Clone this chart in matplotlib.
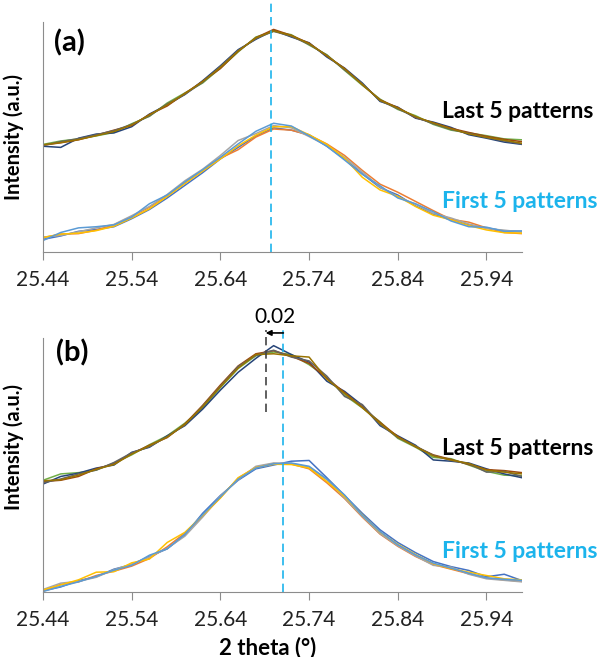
import matplotlib
matplotlib.use("Agg")
from matplotlib import pyplot as plt

plt.rcParams['font.family'] = ['Lato', 'DejaVu Sans']

# 2 theta grid shared by all patterns
two_theta = [25.44, 25.46, 25.48, 25.50, 25.52, 25.54, 25.56, 25.58, 25.60, 25.62,
             25.64, 25.66, 25.68, 25.70, 25.72, 25.74, 25.76, 25.78, 25.80, 25.82,
             25.84, 25.86, 25.88, 25.90, 25.92, 25.94, 25.96, 25.98]

# (a) last 5 patterns
a_last = [
    [46.8, 48.3, 49.2, 50.5, 52.0, 55.8, 59.0, 64.8, 69.2, 73.5, 80.0, 87.0, 93.5, 96.0, 94.5, 90.0, 85.8, 79.0, 72.5, 66.5, 62.0, 59.3, 55.5, 53.0, 51.8, 50.6, 49.2, 48.8],
    [46.0, 45.5, 49.5, 51.3, 51.8, 54.5, 60.0, 64.0, 68.5, 74.5, 81.0, 88.0, 92.5, 96.5, 93.5, 91.0, 84.8, 80.0, 73.5, 65.5, 63.0, 58.2, 56.5, 54.2, 51.0, 49.5, 47.8, 46.8],
    [46.5, 47.5, 48.8, 50.8, 53.0, 55.0, 59.8, 63.5, 69.0, 74.2, 79.8, 87.3, 93.2, 96.8, 94.2, 90.8, 85.3, 79.8, 72.8, 66.2, 62.8, 58.5, 56.2, 53.8, 52.0, 50.3, 49.0, 48.0],
    [46.3, 48.0, 49.3, 51.0, 52.8, 55.5, 59.2, 64.4, 68.6, 73.8, 80.7, 87.6, 92.8, 96.0, 93.8, 90.3, 85.6, 79.2, 73.2, 65.8, 62.3, 58.6, 55.8, 53.3, 51.6, 49.8, 48.3, 47.0],
    [46.6, 47.6, 48.9, 50.6, 52.4, 55.3, 59.6, 64.0, 68.9, 74.1, 80.3, 87.4, 93.1, 96.2, 94.1, 90.6, 85.4, 79.6, 72.9, 66.0, 62.6, 58.9, 56.1, 53.6, 51.4, 49.9, 48.6, 47.3],
]
# (a) first 5 patterns
a_first = [
    [5.5, 7.0, 9.0, 9.8, 11.0, 14.5, 18.5, 23.5, 29.0, 34.5, 40.5, 45.5, 50.5, 54.0, 53.0, 51.0, 46.0, 40.5, 34.0, 28.0, 24.8, 20.0, 16.5, 14.0, 11.8, 10.5, 9.2, 8.9],
    [6.2, 7.8, 8.0, 9.5, 11.8, 15.5, 19.5, 24.5, 30.0, 35.5, 40.8, 44.5, 50.0, 53.5, 53.0, 50.8, 47.0, 42.0, 35.5, 29.5, 26.0, 22.0, 18.0, 14.2, 13.0, 10.5, 8.5, 8.0],
    [6.5, 7.2, 8.8, 10.5, 12.0, 15.8, 19.8, 25.0, 31.0, 36.0, 42.0, 48.5, 51.5, 55.0, 54.0, 50.2, 46.3, 41.2, 34.8, 28.2, 24.0, 20.8, 16.8, 14.8, 12.2, 10.2, 9.5, 8.7],
    [6.3, 7.8, 8.2, 9.3, 11.2, 14.8, 18.8, 24.2, 29.8, 35.2, 40.5, 46.2, 50.8, 54.5, 54.5, 51.0, 46.8, 40.8, 32.5, 27.0, 24.2, 19.8, 16.0, 14.0, 11.5, 9.6, 8.4, 8.2],
    [5.0, 8.5, 10.5, 11.0, 11.8, 15.2, 21.0, 24.8, 30.5, 35.8, 41.2, 47.0, 52.5, 56.0, 54.8, 50.5, 46.0, 40.0, 33.8, 28.8, 23.5, 21.0, 17.5, 13.5, 11.0, 10.8, 9.0, 9.2],
]
# (b) last 5 patterns
b_last = [
    [44.0, 46.5, 47.0, 48.0, 50.8, 54.0, 58.0, 61.5, 66.5, 72.5, 80.5, 88.0, 93.0, 94.5, 93.5, 89.5, 84.5, 77.5, 72.5, 67.0, 60.5, 57.0, 53.0, 52.5, 50.0, 47.5, 46.0, 45.8],
    [42.5, 45.5, 46.8, 48.8, 50.0, 55.0, 57.0, 61.5, 65.5, 72.0, 79.5, 86.5, 92.0, 97.0, 93.5, 90.5, 83.0, 79.0, 73.5, 65.5, 61.5, 57.8, 52.0, 51.5, 50.8, 48.5, 46.5, 45.0],
    [43.5, 44.0, 45.5, 48.5, 50.5, 54.5, 57.8, 60.8, 66.2, 73.5, 81.5, 89.0, 93.8, 95.0, 92.8, 90.0, 84.2, 78.5, 72.8, 66.8, 61.2, 57.2, 54.0, 52.2, 50.2, 48.2, 47.8, 47.0],
    [43.0, 44.5, 46.5, 48.0, 51.0, 54.8, 57.2, 61.2, 65.8, 73.2, 81.0, 88.8, 93.2, 95.2, 92.5, 91.0, 85.0, 77.0, 73.8, 66.0, 60.8, 57.5, 53.8, 51.8, 50.5, 47.2, 47.5, 45.5],
    [43.8, 44.2, 46.0, 48.3, 50.2, 54.3, 57.6, 61.0, 66.0, 73.0, 80.8, 88.2, 93.5, 93.8, 93.0, 92.5, 83.8, 78.2, 72.6, 66.4, 61.0, 57.3, 53.6, 52.0, 50.6, 48.0, 47.2, 46.5],
]
# (b) first 5 patterns
b_first = [
    [0.5, 2.0, 4.5, 6.0, 9.0, 10.8, 14.0, 17.0, 22.5, 31.0, 38.0, 44.0, 48.5, 50.0, 51.5, 51.8, 45.0, 38.0, 31.0, 24.5, 19.5, 15.5, 12.0, 10.0, 8.5, 6.0, 7.0, 4.5],
    [0.3, 3.0, 4.0, 6.5, 8.2, 10.2, 13.2, 17.8, 23.2, 29.8, 37.2, 44.8, 49.2, 50.6, 50.4, 48.5, 43.0, 36.8, 29.5, 22.8, 18.0, 14.0, 10.8, 9.0, 7.2, 5.5, 4.8, 4.2],
    [1.0, 3.5, 4.2, 5.8, 8.8, 11.0, 13.8, 17.2, 22.0, 29.5, 37.8, 44.2, 49.5, 50.8, 50.6, 49.2, 44.2, 37.0, 29.8, 23.0, 18.2, 14.2, 10.5, 9.8, 7.0, 5.2, 4.6, 4.0],
    [0.8, 2.8, 4.8, 7.8, 8.0, 11.5, 13.0, 19.5, 23.5, 30.2, 37.0, 45.0, 49.0, 50.3, 50.2, 48.8, 43.5, 37.6, 30.4, 23.6, 18.8, 14.8, 11.2, 9.2, 7.8, 6.5, 5.2, 4.8],
    [0.2, 2.2, 4.0, 6.2, 8.6, 10.5, 14.5, 17.0, 22.8, 30.5, 37.5, 44.4, 48.8, 50.5, 50.8, 49.5, 44.5, 38.2, 30.2, 23.8, 18.6, 14.6, 11.4, 9.4, 7.4, 5.6, 5.0, 4.6],
]

xticks = [25.44, 25.54, 25.64, 25.74, 25.84, 25.94]
xtick_labels = ["25.44", "25.54", "25.64", "25.74", "25.84", "25.94"]

# peak positions marked with dashed lines
peak_a = 25.697
peak_b_first = 25.711
peak_b_last = 25.691

last_colors = ["#70AD47", "#264478", "#9E480E", "#636363", "#997300"]
first_colors = ["#4472C4", "#ED7D31", "#A5A5A5", "#FFC000", "#5B9BD5"]
cyan = "#1CB4EC"

fig = plt.figure(figsize=(6.04, 6.57), dpi=100)
ax_a = fig.add_axes([0.0712, 0.6164, 0.793, 0.350])
ax_b = fig.add_axes([0.0712, 0.0989, 0.793, 0.3866])


def style_axis(ax):
    ax.set_xlim(25.44, 25.98)
    ax.set_ylim(0, 100)
    for s in ["top", "right"]:
        ax.spines[s].set_visible(False)
    ax.spines["left"].set_color("#8c8c8c")
    ax.spines["bottom"].set_color("#8c8c8c")
    ax.set_yticks([])
    ax.set_xticks(xticks)
    ax.set_xticklabels(xtick_labels)
    ax.tick_params(axis="x", length=6, color="#8c8c8c", labelsize=15, pad=7,
                   labelcolor="#222222")
    ax.set_ylabel("Intensity (a.u.)", fontsize=14.5, fontweight="bold")


for ax, last, first in [(ax_a, a_last, a_first), (ax_b, b_last, b_first)]:
    for ys, c in zip(last, last_colors):
        ax.plot(two_theta, ys, color=c, lw=1.1)
    for ys, c in zip(first, first_colors):
        ax.plot(two_theta, ys, color=c, lw=1.1)
    style_axis(ax)
    ax.text(25.89, 61 if ax is ax_a else 56.6, "Last 5 patterns", fontsize=16.5,
            fontweight="bold", va="center", ha="left", clip_on=False)
    ax.text(25.89, 22 if ax is ax_a else 15.8, "First 5 patterns", fontsize=16.5,
            fontweight="bold", color=cyan, va="center", ha="left", clip_on=False)

# panel (a)
ax_a.text(25.47, 91, "(a)", fontsize=21, fontweight="bold", ha="center", va="center")
ax_a.plot([peak_a, peak_a], [0, 109], ls=(0, (5, 3)), color=cyan, lw=1.2, clip_on=False)
ax_a.yaxis.set_label_coords(-0.04, 0.5)

# panel (b)
ax_b.text(25.473, 94, "(b)", fontsize=21, fontweight="bold", ha="center", va="center")
ax_b.plot([peak_b_first, peak_b_first], [0, 103], ls=(0, (5, 3)), color=cyan, lw=1.2,
          clip_on=False)
ax_b.plot([peak_b_last, peak_b_last], [71, 103], ls=(0, (5, 3)), color="#444444", lw=1.2,
          clip_on=False)
ax_b.annotate("", xy=(peak_b_last, 102), xytext=(peak_b_first, 102),
              arrowprops=dict(arrowstyle="-|>", color="black", lw=1.2,
                              shrinkA=0, shrinkB=0, mutation_scale=8),
              annotation_clip=False)
ax_b.text((peak_b_first + peak_b_last) / 2, 104.5, "0.02", fontsize=15, ha="center",
          va="bottom", clip_on=False)
ax_b.set_xlabel("2 theta (°)", fontsize=16, fontweight="bold")
ax_b.xaxis.set_label_coords(0.47, -0.175)
ax_b.yaxis.set_label_coords(-0.04, 0.57)

fig.savefig("out.png", dpi=100)
